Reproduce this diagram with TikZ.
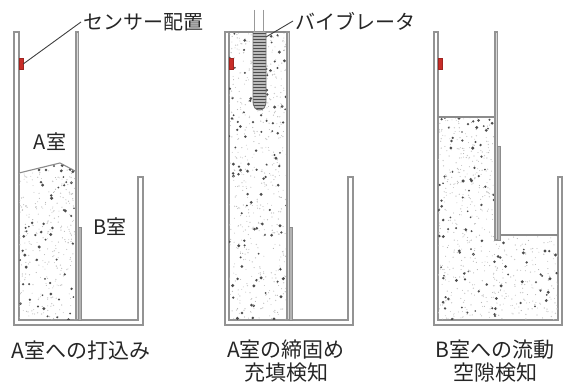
\documentclass[tikz,border=0pt]{standalone}
\usepackage{fontspec}
\setmainfont{Noto Sans CJK JP}
\usetikzlibrary{positioning}
\definecolor{sensorred}{RGB}{200,45,40}

\begin{document}
\begin{tikzpicture}[x=0.5pt,y=-0.5pt]
    \tikzstyle{wall}=[draw=gray!85,fill=white,line width=0.6pt]
    \tikzstyle{gate}=[draw=gray!90,fill=gray!60,line width=0.35pt]
    \tikzstyle{surface}=[draw=gray!90,line width=0.55pt]
    \tikzstyle{sensor}=[draw=sensorred!80!black,fill=sensorred,line width=0.2pt,
        inner sep=0pt,minimum width=2pt,minimum height=5.5pt]
    \tikzstyle{lbl}=[text=black!85,font=\fontsize{10}{12}\selectfont,inner sep=1pt]
    \tikzstyle{caption}=[text=black!85,font=\fontsize{10.5}{12}\selectfont,inner sep=1pt,
        node distance=11.5pt]

    \useasboundingbox (0,0) rectangle (563,383);
    \pgfmathsetseed{27}
    \newcommand{\speckles}[5]{
        \foreach \i in {1,...,#5}{
            \fill[gray!55] ({#1+#3*rnd},{#2+#4*rnd}) circle (0.6);
            \fill[gray!45] ({#1+#3*rnd},{#2+#4*rnd}) circle (0.5);
            \fill[gray!60] ({#1+#3*rnd},{#2+#4*rnd}) circle (0.55);
            \fill[gray!40] ({#1+#3*rnd},{#2+#4*rnd}) circle (0.75);
            \fill[gray!50] ({#1+#3*rnd},{#2+#4*rnd}) circle (0.5);
            \fill[black!70] ({#1+#3*rnd},{#2+#4*rnd}) circle ({0.9+0.8*rnd});
        }
    }

    % containers
    \path[wall] (14,32) -- (19,32) -- (19,320) -- (138,320) -- (138,177) -- (143,177)
        -- (143,325) -- (14,325) -- cycle;
    \path[wall] (225,32) -- (229,32) -- (229,320) -- (348,320) -- (348,177) -- (353,177)
        -- (353,325) -- (225,325) -- cycle;
    \path[wall] (434,32) -- (438,32) -- (438,320) -- (558,320) -- (558,177) -- (562,177)
        -- (562,325) -- (434,325) -- cycle;

    % concrete
    \begin{scope}
        \clip (19,173) -- (60,163) -- (77,172) -- (77,320) -- (19,320) -- cycle;
        \speckles{19}{163}{58}{157}{60}
    \end{scope}
    \draw[surface] (19,173) -- (60,163) -- (77,172);
    \begin{scope}
        \clip (229,32) rectangle (288,320);
        \speckles{229}{32}{59}{288}{110}
    \end{scope}
    \draw[surface] (229,32) -- (288,32);
    \begin{scope}
        \clip (438,117) -- (496,117) -- (496,235) -- (558,235) -- (558,320) -- (438,320) -- cycle;
        \speckles{438}{117}{120}{203}{160}
    \end{scope}
    \draw[surface] (438,117) -- (496,117);
    \draw[surface] (499,235) -- (558,235);

    % partitions and gates
    \path[wall,fill=gray!30] (76,32) rectangle (78.5,320);
    \path[gate] (78,227) rectangle (81,320);
    \path[wall,fill=gray!30] (287,32) rectangle (289.5,320);
    \path[gate] (289,227) rectangle (292,320);
    \path[wall,fill=gray!30] (495,32) rectangle (497.5,240);
    \path[gate] (497,146) rectangle (500.5,240);

    % vibrator
    \draw[gray!80,line width=0.5pt] (254,10) -- (254,32) (263,10) -- (263,32);
    \begin{scope}
        \path[clip] (253,32) -- (253,100) .. controls (253,108) and (256,110) .. (259.5,110)
            .. controls (263,110) and (266,108) .. (266,100) -- (266,32) -- cycle;
        \fill[gray!55] (250,30) rectangle (270,112);
        \foreach \y in {33,36,...,108}
            \draw[black!70,line width=0.4pt] (250,\y) -- (270,\y);
    \end{scope}
    \draw[gray!90!black,line width=0.45pt] (253,32) -- (253,100) .. controls (253,108) and (256,110)
        .. (259.5,110) .. controls (263,110) and (266,108) .. (266,100) -- (266,32);
    \coordinate (v1) at (266,37);

    % sensors
    \node[sensor] (s1) at (21,64) {};
    \node[sensor] (s2) at (231,64) {};
    \node[sensor] (s3) at (440.5,64) {};

    % labels
    \node[lbl,anchor=west] (n0) at (81,22) {センサー配置};
    \node[lbl,anchor=west] (n1) at (293,21) {バイブレータ};
    \draw[black!75,line width=0.45pt] (s1.east) -- (n0.west);
    \draw[black!75,line width=0.45pt] (v1) -- (n1.west);
    \node[lbl] (ra) at (50,142) {A室};
    \node[lbl] (rb) at (110,227) {B室};

    \node[caption] (c1) at (81,350) {A室への打込み};
    \node[caption] (c2) at (286,350) {A室の締固め};
    \node[caption] [below of=c2] (c3) {充填検知};
    \node[caption] (c4) at (495,350) {B室への流動};
    \node[caption] [below of=c4] (c5) {空隙検知};
\end{tikzpicture}
\end{document}
